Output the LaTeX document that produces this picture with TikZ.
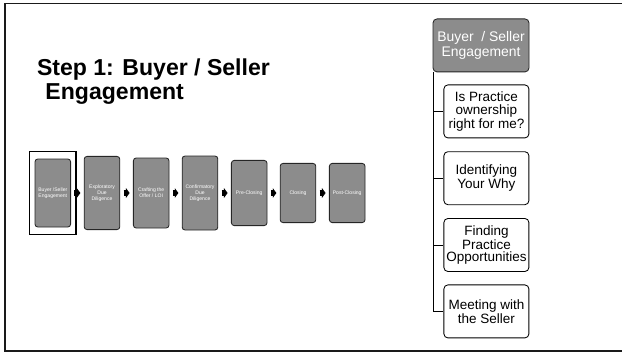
\documentclass[tikz,border=0pt]{standalone}
\usepackage{fontspec}
\setmainfont{Liberation Sans}
\usepackage{xcolor}
\usepackage{tikz}
\usetikzlibrary{arrows.meta}
\definecolor{SBGray}{HTML}{8C8C8C}
\definecolor{SBEdge}{HTML}{262626}
\definecolor{SBFrame}{HTML}{1A1A1A}

\tikzset{
  stagebox/.style={draw=SBEdge,fill=SBGray,rounded corners=0.07cm,line width=0.6pt,minimum width=0.89cm,inner sep=0pt,align=center,text=white,font=\fontsize{3.6}{4.3}\selectfont},
  stagelink/.style={black,line width=3.6pt,-{Triangle[length=0.09cm,width=0.24cm]},shorten <=0.085cm,shorten >=0.085cm},
  headbox/.style={draw=SBEdge,fill=SBGray,rounded corners=0.1cm,line width=0.6pt,minimum width=2.4cm,minimum height=1.325cm,inner sep=0pt,align=center,text=white,font=\fontsize{9.9}{10.6}\selectfont},
  subbox/.style={draw=black,fill=white,rounded corners=0.1cm,line width=0.6pt,minimum width=2.125cm,minimum height=1.325cm,inner sep=0pt,align=center,font=\fontsize{9.6}{8.9}\selectfont},
  linkline/.style={draw=black,line width=0.7pt},
  steptitle/.style={inner sep=0pt,align=left,font=\bfseries\fontsize{16.4}{17}\selectfont}
}

\begin{document}
\begin{tikzpicture}[x=1cm,y=1cm]
\path[use as bounding box] (0,0) rectangle (15.55,8.825);
\draw[SBFrame,line width=1.2pt] (15.55,8.74) -- (0.125,8.74) -- (0.125,0.05) -- (15.55,0.05);
\node[steptitle,anchor=north west] (title) at (0.92,7.36) {Step 1: Buyer / Seller\\\hspace*{0.21cm}Engagement};
\node[stagebox,minimum height=1.70cm] (b1) at (1.32,4.00) {Buyer /Seller\\Engagement};
\node[stagebox,minimum height=1.83cm] (b2) at (2.55,4.00) {Exploratory\\Due\\Diligence};
\node[stagebox,minimum height=1.75cm] (b3) at (3.78,4.00) {Crafting the\\Offer / LOI};
\node[stagebox,minimum height=1.85cm] (b4) at (5.00,4.00) {Confirmatory\\Due\\Diligence};
\node[stagebox,minimum height=1.63cm] (b5) at (6.23,4.00) {Pre-Closing};
\node[stagebox,minimum height=1.48cm] (b6) at (7.45,4.00) {Closing};
\node[stagebox,minimum height=1.48cm] (b7) at (8.68,4.00) {Post-Closing};
\draw[stagelink] (b1.east) -- (b2.west);
\draw[stagelink] (b2.east) -- (b3.west);
\draw[stagelink] (b3.east) -- (b4.west);
\draw[stagelink] (b4.east) -- (b5.west);
\draw[stagelink] (b5.east) -- (b6.west);
\draw[stagelink] (b6.east) -- (b7.west);
\draw[black,line width=1.1pt] ([shift={(-0.13,0.175)}]b1.north west) rectangle ([shift={(0.13,-0.175)}]b1.south east);
\node[headbox] (head) at (12.025,7.69) {Buyer~ / Seller\\Engagement};
\node[subbox] (s1) at (12.16,6.04) {Is Practice\\ownership\\right for me?};
\node[subbox] (s2) at (12.16,4.37) {Identifying\\Your Why};
\node[subbox] (s3) at (12.16,2.70) {Finding\\Practice\\Opportunities};
\node[subbox] (s4) at (12.16,1.04) {Meeting with\\the Seller};
\coordinate (trunk) at ([xshift=0.02cm]head.south west);
\draw[linkline] (trunk) |- (s4.west);
\draw[linkline] (trunk |- s1.west) -- (s1.west);
\draw[linkline] (trunk |- s2.west) -- (s2.west);
\draw[linkline] (trunk |- s3.west) -- (s3.west);
\end{tikzpicture}
\end{document}
